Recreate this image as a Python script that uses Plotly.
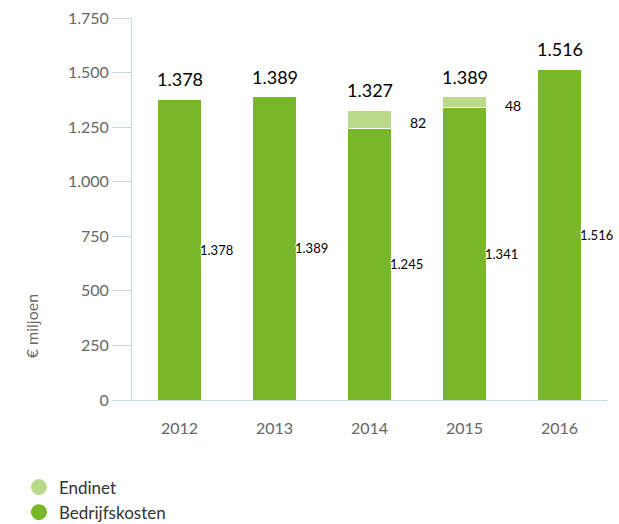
import plotly.graph_objects as go

years = ["2012", "2013", "2014", "2015", "2016"]
bedrijfskosten = [1378, 1389, 1245, 1341, 1516]
endinet = [0, 0, 82, 48, 0]
totals = [1378, 1389, 1327, 1389, 1516]
y_ticks = [0, 250, 500, 750, 1000, 1250, 1500, 1750]

DARK = "#78b72a"
LIGHT = "#bbd98a"
AXIS = "#ccd6eb"
FONT = "Lato, 'Open Sans', sans-serif"


def fmt(v):
    return f"{v:,}".replace(",", ".")


pos = list(range(len(years)))

fig = go.Figure()
fig.add_trace(go.Bar(x=pos, y=bedrijfskosten, name="Bedrijfskosten",
                     marker=dict(color=DARK, line=dict(color="white", width=1)),
                     showlegend=False))
fig.add_trace(go.Bar(x=pos, y=endinet, name="Endinet",
                     marker=dict(color=LIGHT, line=dict(color="white", width=1)),
                     showlegend=False))

# circular legend symbols
fig.add_trace(go.Scatter(x=[pos[0]], y=[None], mode="markers", name="Endinet",
                         marker=dict(color=LIGHT, size=18, symbol="circle")))
fig.add_trace(go.Scatter(x=[pos[0]], y=[None], mode="markers", name="Bedrijfskosten",
                         marker=dict(color=DARK, size=18, symbol="circle")))

halo = "1px 1px 1px #fff, -1px -1px 1px #fff, 1px -1px 1px #fff, -1px 1px 1px #fff"

annotations = []
for i, b, e, t in zip(pos, bedrijfskosten, endinet, totals):
    annotations.append(dict(x=i, y=b / 2, text=fmt(b), showarrow=False,
                            xanchor="left", xshift=18,
                            font=dict(size=13, color="#000", family=FONT, shadow=halo)))
    if e:
        annotations.append(dict(x=i, y=b + e / 2, text=fmt(e), showarrow=False,
                                xanchor="left", xshift=38, yshift=-3,
                                font=dict(size=14, color="#000", family=FONT)))
    annotations.append(dict(x=i, y=t, text=fmt(t), showarrow=False,
                            yanchor="bottom", yshift=7,
                            font=dict(size=18, color="#000", family=FONT)))

annotations.append(dict(xref="paper", yref="paper", x=-0.236, y=0.105,
                        text="€ miljoen", textangle=-90, showarrow=False,
                        font=dict(size=16, color="#666", family=FONT)))

fig.update_layout(
    width=619, height=524,
    margin=dict(l=132, r=12, t=18, b=124, autoexpand=False),
    paper_bgcolor="white", plot_bgcolor="white",
    barmode="stack", bargap=0.53,
    font=dict(family=FONT, color="#666", size=16),
    annotations=annotations,
    legend=dict(x=-0.238, y=-0.182, xanchor="left", yanchor="top",
                font=dict(size=17, color="#333"), traceorder="normal",
                tracegroupgap=0),
    xaxis=dict(range=[-0.5, 4.5], tickvals=pos, ticktext=years,
               showline=True, linecolor=AXIS, linewidth=1, showgrid=False,
               zeroline=False, ticks="", ticklabelstandoff=14,
               tickfont=dict(size=16, color="#666")),
    yaxis=dict(range=[0, 1750], tickvals=y_ticks, ticktext=[fmt(v) for v in y_ticks],
               showline=True, linecolor=AXIS, linewidth=1, showgrid=False,
               ticks="outside", ticklen=19, tickcolor=AXIS,
               zeroline=False, tickfont=dict(size=16, color="#666")),
)

fig.write_html("out.html")
